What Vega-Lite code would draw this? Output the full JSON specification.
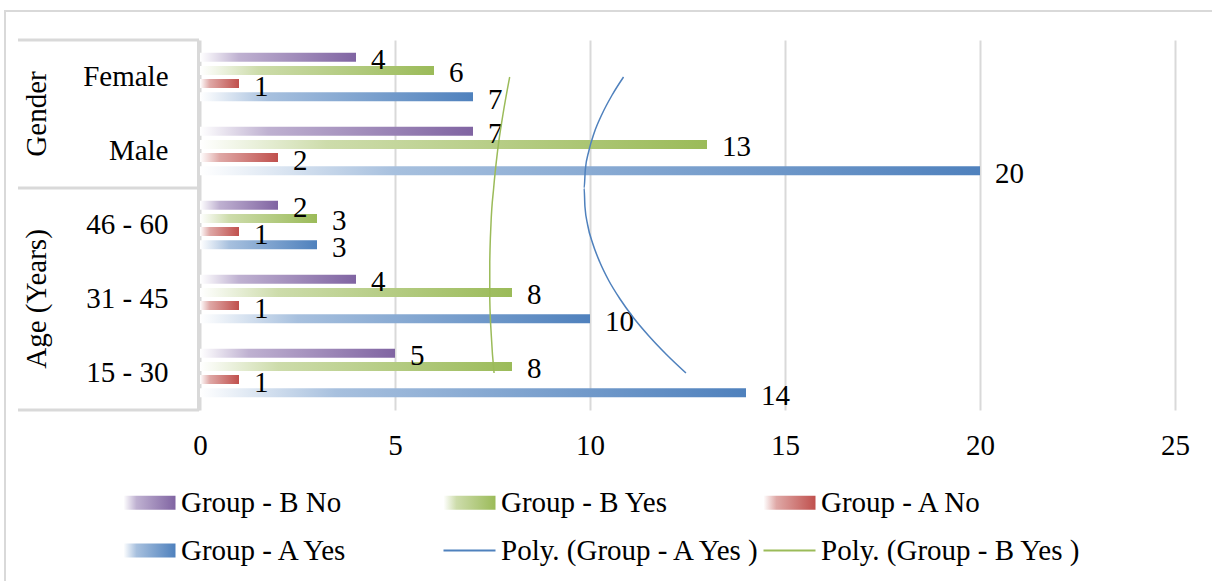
{
  "$schema": "https://vega.github.io/schema/vega-lite/v6.json",
  "width": 975,
  "height": 370,
  "autosize": {"type": "none"},
  "padding": {"left": 200, "top": 40, "right": 37, "bottom": 171},
  "background": "#ffffff",
  "datasets": {
    "counts": [
      {"category": "Female", "series": "Group - B No", "value": 4},
      {"category": "Female", "series": "Group - B Yes", "value": 6},
      {"category": "Female", "series": "Group - A No", "value": 1},
      {"category": "Female", "series": "Group - A Yes", "value": 7},
      {"category": "Male", "series": "Group - B No", "value": 7},
      {"category": "Male", "series": "Group - B Yes", "value": 13},
      {"category": "Male", "series": "Group - A No", "value": 2},
      {"category": "Male", "series": "Group - A Yes", "value": 20},
      {"category": "46 - 60", "series": "Group - B No", "value": 2},
      {"category": "46 - 60", "series": "Group - B Yes", "value": 3},
      {"category": "46 - 60", "series": "Group - A No", "value": 1},
      {"category": "46 - 60", "series": "Group - A Yes", "value": 3},
      {"category": "31 - 45", "series": "Group - B No", "value": 4},
      {"category": "31 - 45", "series": "Group - B Yes", "value": 8},
      {"category": "31 - 45", "series": "Group - A No", "value": 1},
      {"category": "31 - 45", "series": "Group - A Yes", "value": 10},
      {"category": "15 - 30", "series": "Group - B No", "value": 5},
      {"category": "15 - 30", "series": "Group - B Yes", "value": 8},
      {"category": "15 - 30", "series": "Group - A No", "value": 1},
      {"category": "15 - 30", "series": "Group - A Yes", "value": 14}
    ],
    "trends": [
      {"series": "Poly. (Group - A Yes )", "pos": 1, "value": 12.46},
      {"series": "Poly. (Group - A Yes )", "pos": 1.25, "value": 11.96},
      {"series": "Poly. (Group - A Yes )", "pos": 1.5, "value": 11.51},
      {"series": "Poly. (Group - A Yes )", "pos": 1.75, "value": 11.11},
      {"series": "Poly. (Group - A Yes )", "pos": 2, "value": 10.77},
      {"series": "Poly. (Group - A Yes )", "pos": 2.25, "value": 10.48},
      {"series": "Poly. (Group - A Yes )", "pos": 2.5, "value": 10.25},
      {"series": "Poly. (Group - A Yes )", "pos": 2.75, "value": 10.07},
      {"series": "Poly. (Group - A Yes )", "pos": 3, "value": 9.94},
      {"series": "Poly. (Group - A Yes )", "pos": 3.25, "value": 9.87},
      {"series": "Poly. (Group - A Yes )", "pos": 3.5, "value": 9.85},
      {"series": "Poly. (Group - A Yes )", "pos": 3.75, "value": 9.88},
      {"series": "Poly. (Group - A Yes )", "pos": 4, "value": 9.97},
      {"series": "Poly. (Group - A Yes )", "pos": 4.25, "value": 10.11},
      {"series": "Poly. (Group - A Yes )", "pos": 4.5, "value": 10.31},
      {"series": "Poly. (Group - A Yes )", "pos": 4.75, "value": 10.56},
      {"series": "Poly. (Group - A Yes )", "pos": 5, "value": 10.86},
      {"series": "Poly. (Group - B Yes )", "pos": 1, "value": 7.54},
      {"series": "Poly. (Group - B Yes )", "pos": 1.5, "value": 7.47},
      {"series": "Poly. (Group - B Yes )", "pos": 2, "value": 7.43},
      {"series": "Poly. (Group - B Yes )", "pos": 2.5, "value": 7.43},
      {"series": "Poly. (Group - B Yes )", "pos": 3, "value": 7.46},
      {"series": "Poly. (Group - B Yes )", "pos": 3.5, "value": 7.53},
      {"series": "Poly. (Group - B Yes )", "pos": 4, "value": 7.63},
      {"series": "Poly. (Group - B Yes )", "pos": 4.5, "value": 7.77},
      {"series": "Poly. (Group - B Yes )", "pos": 5, "value": 7.94}
    ],
    "groups": [
      {"group": "Gender", "mid": 4.5},
      {"group": "Age (Years)", "mid": 2}
    ],
    "boundaries": [
      {"boundary": 5.5},
      {"boundary": 3.5},
      {"boundary": 0.5}
    ]
  },
  "config": {
    "view": {"stroke": null},
    "font": "Liberation Serif",
    "axis": {
      "labelFont": "Liberation Serif",
      "labelFontSize": 29,
      "labelColor": "#000000",
      "labelFlush": false,
      "title": null,
      "ticks": false
    }
  },
  "layer": [
    {
      "data": {"name": "counts"},
      "encoding": {
        "y": {
          "field": "category",
          "type": "nominal",
          "scale": {"domain": ["Female", "Male", "46 - 60", "31 - 45", "15 - 30"], "paddingInner": 0, "paddingOuter": 0},
          "axis": {
            "domain": true,
            "domainColor": "#d9d9d9",
            "domainWidth": 3,
            "offset": 2,
            "labelPadding": 30,
            "labelAlign": "right",
            "grid": false
          }
        },
        "yOffset": {
          "field": "series",
          "type": "nominal",
          "scale": {"domain": ["Group - B No", "Group - B Yes", "Group - A No", "Group - A Yes"], "paddingInner": 0.32, "paddingOuter": 0.96}
        },
        "x": {
          "field": "value",
          "type": "quantitative",
          "scale": {"domain": [0, 25], "nice": false},
          "axis": {
            "values": [0, 5, 10, 15, 20, 25],
            "domain": false,
            "grid": true,
            "gridColor": "#d9d9d9",
            "gridWidth": 2,
            "labelFlush": false,
            "labelPadding": 21
          }
        }
      },
      "layer": [
        {
          "transform": [{"filter": "datum.series === 'Group - B No'"}],
          "mark": {"type": "bar", "color": {"gradient": "linear", "x1": 0, "y1": 0, "x2": 1, "y2": 0, "stops": [{"offset": 0, "color": "#ffffff"}, {"offset": 0.25, "color": "#bfb1d1"}, {"offset": 1, "color": "#8064a2"}]}}
        },
        {
          "transform": [{"filter": "datum.series === 'Group - B Yes'"}],
          "mark": {"type": "bar", "color": {"gradient": "linear", "x1": 0, "y1": 0, "x2": 1, "y2": 0, "stops": [{"offset": 0, "color": "#ffffff"}, {"offset": 0.25, "color": "#cddcab"}, {"offset": 1, "color": "#9bbb59"}]}}
        },
        {
          "transform": [{"filter": "datum.series === 'Group - A No'"}],
          "mark": {"type": "bar", "color": {"gradient": "linear", "x1": 0, "y1": 0, "x2": 1, "y2": 0, "stops": [{"offset": 0, "color": "#ffffff"}, {"offset": 0.25, "color": "#dfa8a6"}, {"offset": 1, "color": "#c0504d"}]}}
        },
        {
          "transform": [{"filter": "datum.series === 'Group - A Yes'"}],
          "mark": {"type": "bar", "color": {"gradient": "linear", "x1": 0, "y1": 0, "x2": 1, "y2": 0, "stops": [{"offset": 0, "color": "#ffffff"}, {"offset": 0.25, "color": "#a7c0de"}, {"offset": 1, "color": "#4f81bd"}]}}
        },
        {
          "mark": {"type": "text", "align": "left", "baseline": "middle", "dx": 15, "dy": 3, "fontSize": 29, "font": "Liberation Serif", "color": "#000000"},
          "encoding": {
            "text": {"field": "value", "type": "quantitative"}
          }
        }
      ]
    },
    {
      "layer": [
        {
          "data": {"values": [{}]},
          "mark": {"type": "rect", "fill": "transparent", "stroke": "#d9d9d9", "strokeWidth": 2},
          "encoding": {
            "x": {"datum": -5.0, "type": "quantitative", "scale": {"domain": [0, 25], "nice": false}},
            "x2": {"datum": 27},
            "y": {"datum": 5.892, "type": "quantitative", "scale": {"domain": [0.5, 5.5], "nice": false, "zero": false}, "axis": null},
            "y2": {"datum": -3}
          }
        },
        {
          "data": {"name": "boundaries"},
          "mark": {"type": "rule", "color": "#d9d9d9", "strokeWidth": 3},
          "encoding": {
            "x": {"datum": -4.667, "type": "quantitative", "scale": {"domain": [0, 25], "nice": false}},
            "x2": {"datum": -0.025},
            "y": {"field": "boundary", "type": "quantitative", "scale": {"domain": [0.5, 5.5], "nice": false, "zero": false}, "axis": null}
          }
        },
        {
          "data": {"name": "groups"},
          "mark": {"type": "text", "angle": 270, "align": "center", "baseline": "middle", "fontSize": 29, "font": "Liberation Serif", "color": "#000000"},
          "encoding": {
            "x": {"datum": -4.18, "type": "quantitative", "scale": {"domain": [0, 25], "nice": false}},
            "y": {"field": "mid", "type": "quantitative", "scale": {"domain": [0.5, 5.5], "nice": false, "zero": false}, "axis": null},
            "text": {"field": "group", "type": "nominal"}
          }
        },
        {
          "data": {"name": "trends"},
          "mark": {"type": "line", "interpolate": "monotone", "strokeWidth": 1.5},
          "encoding": {
            "x": {"field": "value", "type": "quantitative", "scale": {"domain": [0, 25], "nice": false}},
            "y": {"field": "pos", "type": "quantitative", "scale": {"domain": [0.5, 5.5], "nice": false, "zero": false}, "axis": null},
            "order": {"field": "pos", "type": "quantitative"},
            "color": {
              "field": "series",
              "type": "nominal",
              "scale": {
                "domain": ["Group - B No", "Group - A Yes", "Group - B Yes", "Poly. (Group - A Yes )", "Group - A No", "Poly. (Group - B Yes )"],
                "range": ["#8064a2", "#4f81bd", "#9bbb59", "#4f81bd", "#c0504d", "#9bbb59"]
              },
              "legend": {
                "title": null,
                "orient": "none",
                "legendX": -65,
                "legendY": 448,
                "columns": 3,
                "gridAlign": "all",
                "columnPadding": 0,
                "rowPadding": 18,
                "symbolSize": 676,
                "symbolStrokeWidth": 0,
                "labelOffset": 17,
                "labelFont": "Liberation Serif",
                "labelFontSize": 29,
                "labelColor": "#000000",
                "labelLimit": 400,
                "encode": {
                  "symbols": {
                    "update": {
                      "shape": {"signal": "indexof(datum.value, 'Poly') === 0 ? 'M-2,-0.08H2V0.08H-2Z' : 'M-2,-0.54H2V0.54H-2Z'"},
                      "fill": {"signal": "indexof(datum.value, 'Poly') === 0 ? scale('color', datum.value) : {gradient: 'linear', x1: 0, y1: 0, x2: 1, y2: 0, stops: [{offset: 0, color: '#ffffff'}, {offset: 0.25, color: datum.value === 'Group - B No' ? '#bfb1d1' : datum.value === 'Group - B Yes' ? '#cddcab' : datum.value === 'Group - A No' ? '#dfa8a6' : '#a7c0de'}, {offset: 1, color: scale('color', datum.value)}]}"},
                      "strokeWidth": {"value": 0},
                      "opacity": {"value": 1}
                    }
                  }
                }
              }
            }
          }
        }
      ]
    }
  ],
  "resolve": {"scale": {"y": "independent"}}
}
